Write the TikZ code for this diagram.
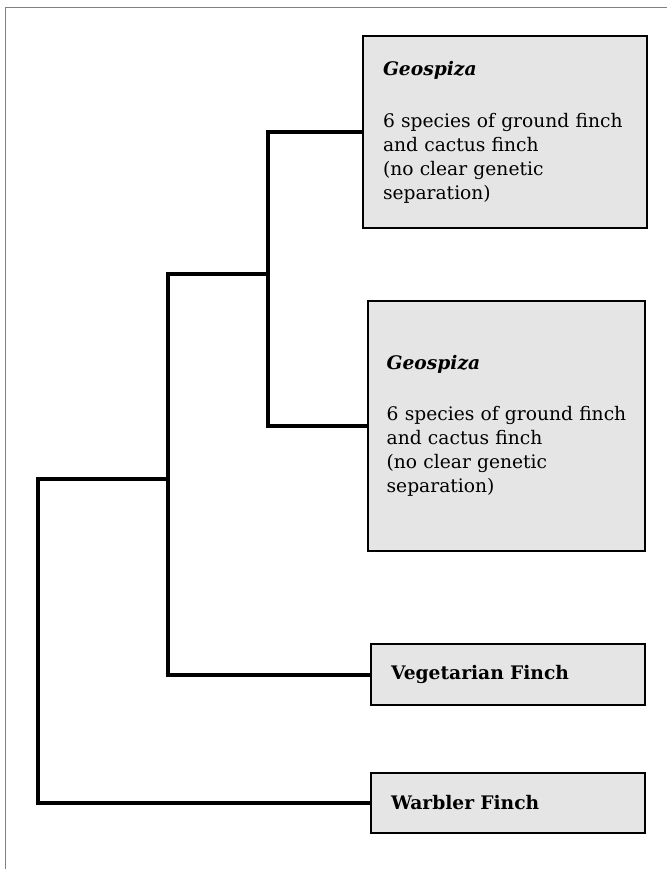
\documentclass[tikz,border=0pt]{standalone}
\usepackage{fontspec}
\setmainfont{DejaVu Serif}
\usepackage{tikz}
\usetikzlibrary{calc}

\begin{document}
\begin{tikzpicture}[x=0.75pt, y=-0.75pt,
    finchbox/.style={draw=black, line width=1.5pt, fill=black!10, align=left,
        inner xsep=15pt, inner ysep=0pt, font=\fontsize{14}{18}\selectfont},
    branch/.style={line width=3pt, black}]
    % 1. Fix the page size and draw the thin frame on the top and left
    \useasboundingbox (0,0) rectangle (667,869);
    \draw[gray, line width=0.75pt] (5,869) -- (5,7) -- (667,7);

    % 2. The boxes of the finch groups
    \node[finchbox, text width=183pt, minimum height=144pt] (geoA) at (505,132)
        {\textbf{\textit{Geospiza}}\\[21pt]
         6 species of ground finch\\ and cactus finch\\ (no clear genetic\\ separation)\\[4pt]};
    \node[finchbox, inner xsep=14pt, text width=179.75pt, minimum height=187.5pt] (geoB) at (506.5,426)
        {\textbf{\textit{Geospiza}}\\[20pt]
         6 species of ground finch\\ and cactus finch\\ (no clear genetic\\ separation)};
    \node[finchbox, text width=175.5pt, minimum height=45.75pt] (veg) at (508,674.5)
        {\textbf{Vegetarian Finch}};
    \node[finchbox, text width=175.5pt, minimum height=45pt] (warb) at (508,803)
        {\textbf{Warbler Finch}};

    % 3. The branch points of the tree
    \coordinate (n2) at (268,274);
    \coordinate (n1) at (168,479);
    \coordinate (root) at (38,479);

    % 4. Draw the branches from the boxes back to the root
    \draw[branch] (geoA.west) -| (n2) |- (geoB.west);
    \draw[branch] (n2) -| (n1) |- (veg.west);
    \draw[branch] (n1) -- (root) |- (warb.west);

\end{tikzpicture}
\end{document}
